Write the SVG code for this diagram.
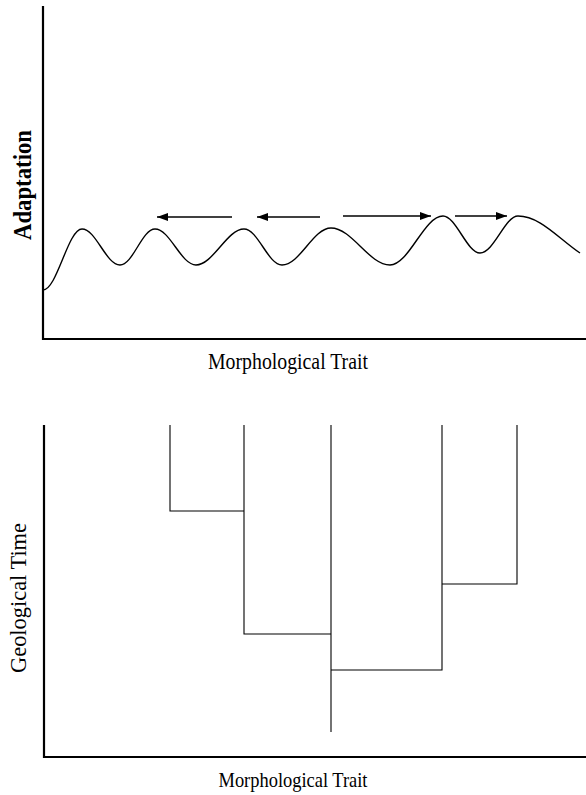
<svg xmlns="http://www.w3.org/2000/svg" width="586" height="795" viewBox="0 0 586 795">
<style>
.ax{stroke:#000;stroke-width:2.2;fill:none}
.cv{stroke:#000;stroke-width:1.4;fill:none}
.ar{stroke:#000;stroke-width:1.5;fill:none}
.tr{stroke:#000;stroke-width:1.1;fill:none}
.lbl{font-family:"Liberation Serif","Times New Roman",serif;fill:#000}
</style>
<defs>
<marker id="ah" markerUnits="userSpaceOnUse" markerWidth="12" markerHeight="8" refX="11" refY="4" orient="auto">
<path d="M0,0 L11,4 L0,8 z" fill="#000"/>
</marker>
</defs>
<rect width="586" height="795" fill="#fff"/>
<g id="top-chart">
<g id="top-axes">
<path class="ax" d="M43,6 V339 H586"/>
</g>
<g id="landscape">
<path class="cv" d="M43,290 C57,290 68,229 82,229 C96,229 106,265 120,265 C133,265 142,229 155,229 C170,229 181,265 196,265 C213,265 227,229 244,229 C258,229 268,265 282,265 C300,265 313,228 331,228 C352,228 369,265 390,265 C409,265 424,216 443,216 C456,216 467,253 480,253 C494,253 505,216 518,216 C540,216 558,238 580,253"/>
</g>
<g id="arrows">
<line class="ar" x1="232" y1="217" x2="157" y2="217" marker-end="url(#ah)"/>
<line class="ar" x1="320" y1="217" x2="257" y2="217" marker-end="url(#ah)"/>
<line class="ar" x1="343" y1="216" x2="431" y2="216" marker-end="url(#ah)"/>
<line class="ar" x1="455" y1="216" x2="507" y2="216" marker-end="url(#ah)"/>
</g>
<text class="lbl" font-size="25" font-weight="bold" text-anchor="middle" transform="translate(31,185) rotate(-90)" textLength="110" lengthAdjust="spacingAndGlyphs">Adaptation</text>
<text class="lbl" font-size="23" text-anchor="middle" x="288" y="369" textLength="160" lengthAdjust="spacingAndGlyphs">Morphological Trait</text>
</g>
<g id="bottom-chart">
<g id="bottom-axes">
<path class="ax" d="M44,425 V757 H586"/>
</g>
<g id="tree">
<path class="tr" d="M170,425 V511 H244"/>
<path class="tr" d="M244,425 V634 H331"/>
<path class="tr" d="M331,425 V732"/>
<path class="tr" d="M442,425 V670 H331"/>
<path class="tr" d="M517,425 V584 H442"/>
</g>
<text class="lbl" font-size="24" text-anchor="middle" transform="translate(26,598) rotate(-90)" textLength="150" lengthAdjust="spacingAndGlyphs">Geological Time</text>
<text class="lbl" font-size="22" text-anchor="middle" x="293" y="787" textLength="149" lengthAdjust="spacingAndGlyphs">Morphological Trait</text>
</g>
</svg>
